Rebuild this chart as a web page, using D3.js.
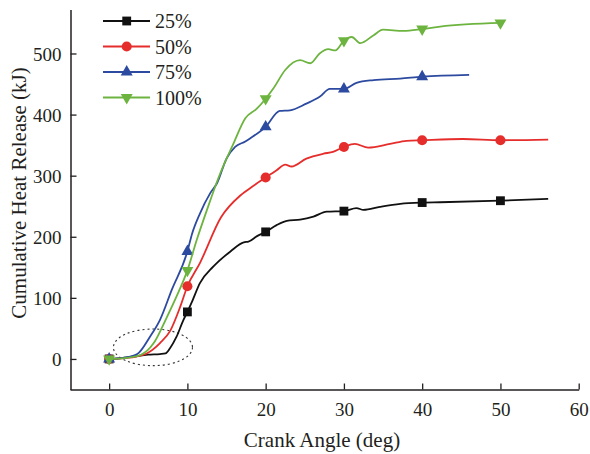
<!DOCTYPE html>
<html>
<head>
<meta charset="utf-8">
<script src="https://cdn.jsdelivr.net/npm/d3@7/dist/d3.min.js"></script>
<style>
  html, body { margin: 0; padding: 0; background: #fff; }
  svg { display: block; }
  svg text { font-family: "Liberation Serif", "Times New Roman", serif; fill: #231f20; }
</style>
</head>
<body>
<svg id="chart" width="590" height="454"></svg>
<script>
// ---- data (crank angle in deg, cumulative heat release in kJ) ----
const seriesNames = ["25%", "50%", "75%", "100%"];
const seriesColors = ["#111111", "#e52d2b", "#2c4a9f", "#6cb43f"];
const seriesSymbols = ["square", "circle", "triangle", "triangleDown"];

const load25 = [[0,0],[1.5,1.5],[3.1,4],[5,7],[6.5,8],[7.2,9],[7.8,18],[8.6,36],[9.5,64],[10,77],[10.6,94],[11.6,124],[13.3,151],[15.5,176],[17.2,191],[17.8,192],[18.9,201],[20,208],[21.4,219],[22.7,226],[24.4,228],[26.1,233],[27.8,241],[30,242],[31.6,247],[32.5,244],[34.6,249],[37.2,254],[40,256],[42.3,256.5],[50,259],[56.1,262]];
const load50 = [[0,0],[2,1.5],[3.5,4],[4.8,9],[6.5,26],[7.8,46],[9.1,86],[10,119],[11.6,157],[14.3,232],[16.8,268],[18.4,283],[20,297],[21.4,309],[22.5,318],[23.3,315],[25.2,328],[27.4,336],[28.6,339],[30,347],[31.4,352],[33.1,346],[35.9,352],[38,357],[40,358],[45.2,360],[50,358],[56.1,359]];
const load75 = [[0,0],[2,2],[3.6,8],[5.2,36],[6.5,64],[8,113],[10,176],[10.6,205],[11.6,238],[12.9,271],[13.8,288],[15,328],[16.1,347],[17.4,356],[18,361],[20,380],[21.8,406],[23.1,407],[25.2,418],[26.9,429],[28.2,442],[30,442],[31.6,452],[33.8,456.5],[37.2,459],[40,462],[46,465]];
const load100 = [[0,0],[2,1.5],[4,6.5],[5.7,26],[7.4,69],[8.6,102],[10,145],[11.2,195],[12.5,244],[14.2,304],[15.9,353],[17.4,394],[18.9,410],[20,426],[21,443],[22.5,473],[24.4,489],[25.7,484],[26.9,500],[28,507],[28.9,505],[30,521],[31,527],[32.1,517],[33.8,530],[35,539],[37.6,537],[40,540],[42.3,544],[50,550]];
const seriesData = [load25, load50, load75, load100];

const markerAngles = [[0,10,20,30,40,50],[0,10,20,30,40,50],[0,10,20,30,40],[0,10,20,30,40,50]];

const xTicks = [0, 10, 20, 30, 40, 50, 60];
const yTicks = [0, 100, 200, 300, 400, 500];
const xDomain = [-5, 60];
const yDomain = [-50, 572];

const xTitle = "Crank Angle (deg)";
const yTitle = "Cumulative Heat Release (kJ)";

// dotted ellipse annotation: center angle, center value, half-width (deg), half-height (kJ)
const ellipseNote = [5.6, 19, 5.05, 30];

// ---- drawing ----
const FONT = "'Liberation Serif', 'Times New Roman', serif";
const svg = d3.select("#chart");
const x = d3.scaleLinear().domain(xDomain).range([70, 578.7]);
const y = d3.scaleLinear().domain(yDomain).range([389.5, 9.5]);

const xAxis = d3.axisBottom(x).tickValues(xTicks).tickSizeInner(-6).tickSizeOuter(0).tickPadding(12);
const yAxis = d3.axisLeft(y).tickValues(yTicks).tickSizeInner(-6).tickSizeOuter(0).tickPadding(9);

const gx = svg.append("g").attr("transform", "translate(0,389.5)").call(xAxis);
const gy = svg.append("g").attr("transform", "translate(70.5,0)").call(yAxis);
[gx, gy].forEach(g => {
  g.attr("font-family", FONT).attr("font-size", 19);
  g.select(".domain").attr("stroke", "#231f20").attr("stroke-width", 1.5);
  g.selectAll(".tick line").attr("stroke", "#231f20").attr("stroke-width", 1.3);
  g.selectAll(".tick text").attr("fill", "#231f20");
});
gx.selectAll(".tick text").attr("dy", "0.75em");
gy.selectAll(".tick text").attr("dy", "0.35em");

svg.append("text").attr("x", 322).attr("y", 447).attr("text-anchor", "middle")
  .attr("font-family", FONT).attr("font-size", 21).text(xTitle);
svg.append("text").attr("transform", "translate(26,193) rotate(-90)").attr("text-anchor", "middle")
  .attr("font-family", FONT).attr("font-size", 21).text(yTitle);

svg.append("ellipse")
  .attr("cx", x(ellipseNote[0])).attr("cy", y(ellipseNote[1]))
  .attr("rx", x(ellipseNote[0] + ellipseNote[2]) - x(ellipseNote[0]))
  .attr("ry", y(0) - y(ellipseNote[3]))
  .attr("fill", "none").attr("stroke", "#333").attr("stroke-width", 1.1)
  .attr("stroke-dasharray", "2,3");

const line = d3.line().x(d => x(d[0])).y(d => y(d[1])).curve(d3.curveMonotoneX);

function symbolPath(kind) {
  if (kind === "square") return d3.symbol().type(d3.symbolSquare).size(78)();
  if (kind === "circle") return d3.symbol().type(d3.symbolCircle).size(80)();
  return d3.symbol().type(d3.symbolTriangle).size(62)();
}
function symbolTransform(kind, px, py) {
  if (kind === "triangleDown") return `translate(${px},${py}) rotate(180)`;
  return `translate(${px},${py})`;
}

seriesData.forEach((data, i) => {
  const col = seriesColors[i];
  svg.append("path").datum(data).attr("d", line)
    .attr("fill", "none").attr("stroke", col).attr("stroke-width", 1.8);
  const pts = markerAngles[i].map(a => data.find(d => d[0] === a));
  svg.append("g").selectAll("path").data(pts).join("path")
    .attr("d", symbolPath(seriesSymbols[i]))
    .attr("transform", d => symbolTransform(seriesSymbols[i], x(d[0]), y(d[1])))
    .attr("fill", col);
});

const legend = svg.append("g");
const rowY = [21, 46.5, 72, 97.5];
seriesNames.forEach((name, i) => {
  const g = legend.append("g");
  g.append("line").attr("x1", 103).attr("x2", 150).attr("y1", rowY[i]).attr("y2", rowY[i])
    .attr("stroke", seriesColors[i]).attr("stroke-width", 1.8);
  g.append("path").attr("d", symbolPath(seriesSymbols[i]))
    .attr("transform", symbolTransform(seriesSymbols[i], 126.7, rowY[i]))
    .attr("fill", seriesColors[i]);
  g.append("text").attr("x", 155).attr("y", rowY[i]).attr("dy", "0.35em")
    .attr("font-family", FONT).attr("font-size", 20).text(name);
});
</script>
</body>
</html>
